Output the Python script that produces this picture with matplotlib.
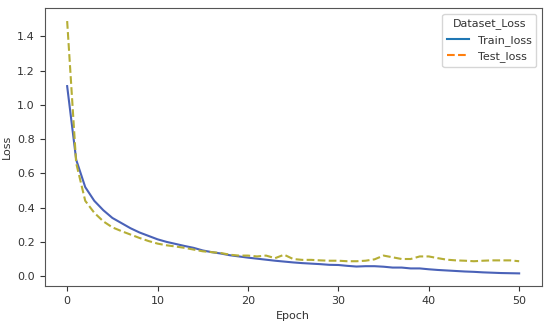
import numpy as np
import matplotlib.pyplot as plt
from matplotlib.lines import Line2D

# data ---------------------------------
epochs = list(range(51))
train_loss = [1.11, 0.68, 0.52, 0.44, 0.385, 0.34, 0.31, 0.28, 0.255, 0.235,
              0.215, 0.2, 0.188, 0.176, 0.165, 0.15, 0.14, 0.132, 0.122, 0.115,
              0.108, 0.102, 0.096, 0.09, 0.085, 0.08, 0.076, 0.073, 0.07, 0.066,
              0.065, 0.06, 0.056, 0.058, 0.058, 0.055, 0.05, 0.05, 0.045, 0.045,
              0.04, 0.036, 0.033, 0.03, 0.027, 0.025, 0.022, 0.02, 0.018, 0.017,
              0.016]
test_loss = [1.49, 0.66, 0.44, 0.37, 0.32, 0.285, 0.263, 0.243, 0.223, 0.205,
             0.19, 0.18, 0.173, 0.165, 0.155, 0.145, 0.14, 0.135, 0.125, 0.12,
             0.12, 0.115, 0.12, 0.105, 0.125, 0.1, 0.095, 0.095, 0.092, 0.09,
             0.09, 0.087, 0.087, 0.09, 0.098, 0.12, 0.11, 0.1, 0.1, 0.115,
             0.115, 0.105, 0.096, 0.092, 0.09, 0.087, 0.09, 0.092, 0.092, 0.092,
             0.087]
series_names = ['Train_loss', 'Test_loss']

# plot ---------------------------------
plt.rcParams['font.size'] = 8
plt.rcParams['text.color'] = '#333333'
plt.rcParams['axes.labelcolor'] = '#333333'
plt.rcParams['xtick.color'] = '#333333'
plt.rcParams['ytick.color'] = '#333333'

fig = plt.figure(figsize=(5.5, 3.25), dpi=100)
ax = fig.add_axes([0.081, 0.12, 0.904, 0.854])

ax.plot(epochs, train_loss, color='#4a62b8', lw=1.5)
ax.plot(epochs, test_loss, color='#b5ae35', lw=1.5, ls='--')

for s in ax.spines.values():
    s.set_color('#555555')

ax.set_xlabel('Epoch')
ax.set_ylabel('Loss')
ax.set_xticks(range(0, 51, 10))
ax.set_yticks(np.arange(0, 1.41, 0.2))

handles = [Line2D([], [], color='#1f77b4', lw=1.5),
           Line2D([], [], color='#ff7f0e', lw=1.5, ls='--')]
ax.legend(handles, series_names, title='Dataset_Loss', loc='upper right',
          fontsize=8, title_fontsize=8)

fig.savefig('out.png', dpi=100)
